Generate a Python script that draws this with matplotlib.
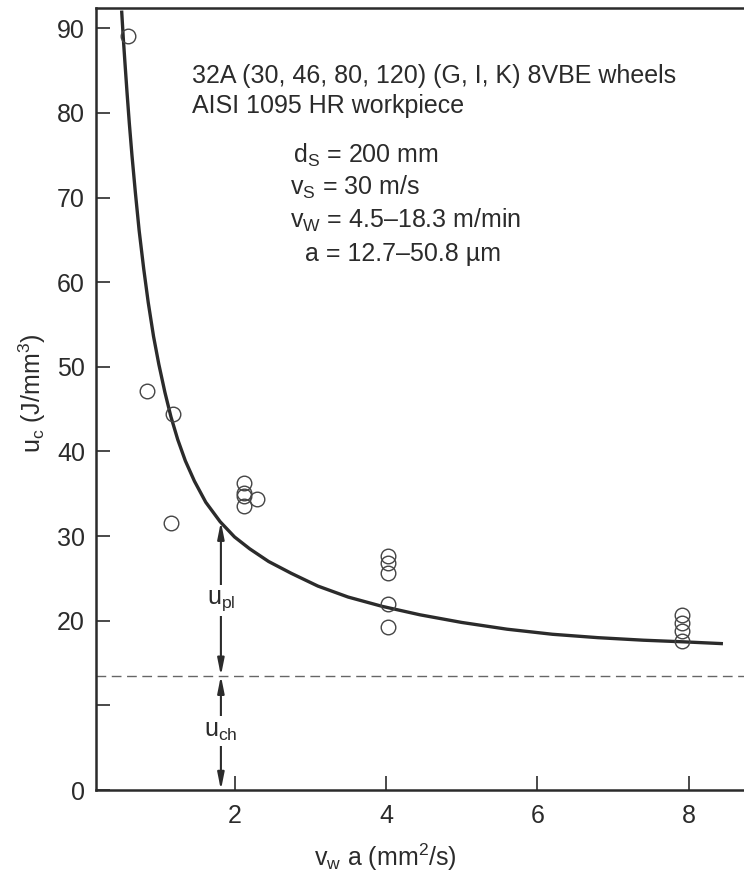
import matplotlib
matplotlib.use("Agg")
import matplotlib.pyplot as plt

plt.rcParams['font.family'] = ['Liberation Sans', 'DejaVu Sans']
plt.rcParams['mathtext.fontset'] = 'custom'
plt.rcParams['mathtext.rm'] = 'Liberation Sans'
plt.rcParams['mathtext.it'] = 'Liberation Sans'

# measured points, vw*a (mm^2/s) vs uc (J/mm^3)
pts_x = [0.59, 0.85, 1.19, 1.16, 2.12, 2.12, 2.12, 2.12, 2.30,
         4.03, 4.03, 4.03, 4.03, 4.03, 7.91, 7.91, 7.91, 7.91]
pts_y = [89.1, 47.2, 44.4, 31.5, 36.3, 35.1, 34.7, 33.6, 34.4,
         27.7, 26.8, 25.6, 22.0, 19.3, 20.7, 19.7, 18.8, 17.6]

# fitted curve
curve_x = [0.51, 0.53, 0.555, 0.58, 0.61, 0.645, 0.69, 0.74, 0.80, 0.86,
           0.93, 1.00, 1.08, 1.16, 1.25, 1.35, 1.47, 1.62, 1.81, 2.00,
           2.20, 2.45, 2.75, 3.10, 3.50, 3.95, 4.45, 5.00, 5.60, 6.20,
           6.80, 7.40, 7.95, 8.43]
curve_y = [91.9, 88.9, 85.6, 82.4, 78.8, 75.0, 70.6, 66.1, 61.6, 57.6,
           53.6, 50.3, 47.0, 44.1, 41.4, 38.9, 36.5, 34.0, 31.7, 29.9,
           28.5, 27.0, 25.6, 24.1, 22.8, 21.7, 20.7, 19.8, 19.0, 18.4,
           18.0, 17.7, 17.5, 17.3]

u_ch = 13.5
u_pl_top = 31.7
arrow_x = 1.82

yticks = [0, 10, 20, 30, 40, 50, 60, 70, 80, 90]
ylabels = ['0', '', '20', '30', '40', '50', '60', '70', '80', '90']
xticks = [2, 4, 6, 8]

ink = '#2b2b2b'

fig = plt.figure(figsize=(7.44, 8.74), dpi=100)
ax = fig.add_axes([96 / 744, 84 / 874, 648 / 744, 782 / 874])
ax.set_xlim(0.17, 8.73)
ax.set_ylim(0, 92.4)

ax.axhline(u_ch, color='#666666', lw=1.0, ls=(0, (7, 4)), zorder=1)
ax.plot(curve_x, curve_y, color=ink, lw=2.4, zorder=3, solid_joinstyle='round')
ax.plot(pts_x, pts_y, 'o', ms=10.5, mfc='none', mec='#444444', mew=1.0, zorder=4)

# double arrows for u_pl and u_ch
arr = dict(arrowstyle='<|-|>,head_length=1.0,head_width=0.2', color=ink,
           lw=1.5, shrinkA=0, shrinkB=0)
ax.annotate('', xy=(arrow_x, u_pl_top), xytext=(arrow_x, u_ch), arrowprops=arr)
ax.annotate('', xy=(arrow_x, u_ch), xytext=(arrow_x, 0), arrowprops=arr)
box = dict(facecolor='white', edgecolor='none', pad=2)
ax.text(arrow_x, 22.4, r'u$_\mathregular{pl}$', ha='center', va='center',
        fontsize=18, color=ink, bbox=box, zorder=5)
ax.text(arrow_x, 7.0, r'u$_\mathregular{ch}$', ha='center', va='center',
        fontsize=18, color=ink, bbox=box, zorder=5)

# annotation block
fs = 18
def ftext(x, y, s):
    fig.text(x / 744, 1 - y / 874, s, ha='left', va='baseline', fontsize=fs, color=ink)

ftext(192, 83, '32A (30, 46, 80, 120) (G, I, K) 8VBE wheels')
ftext(192, 113, 'AISI 1095 HR workpiece')
ftext(293, 163, r'd$_\mathregular{S}$ = 200 mm')
ftext(290, 195, r'v$_\mathregular{S}$ = 30 m/s')
ftext(290, 228, r'v$_\mathregular{W}$ = 4.5–18.3 m/min')
ftext(305, 261, 'a = 12.7–50.8 µm')

ax.set_yticks(yticks)
ax.set_yticklabels(ylabels)
ax.set_xticks(xticks)
ax.tick_params(direction='in', length=10, width=1.2, colors=ink,
               labelsize=18, pad=8)
ax.tick_params(axis='x', pad=10)

for side in ['left', 'bottom', 'top']:
    ax.spines[side].set_linewidth(1.8)
    ax.spines[side].set_color(ink)
ax.spines['right'].set_visible(False)

ax.set_xlabel(r'v$_\mathregular{w}$ a (mm$^\mathregular{2}$/s)', fontsize=18, color=ink)
ax.xaxis.set_label_coords((385 - 96) / 648, -(857 - 790) / 782)
ax.set_ylabel(r'u$_\mathregular{c}$ (J/mm$^\mathregular{3}$)', fontsize=18, color=ink)
ax.yaxis.set_label_coords(-(96 - 32) / 648, (790 - 393) / 782)
ax.xaxis.label.set_va('center')
ax.yaxis.label.set_va('center')

fig.savefig('out.png', dpi=100)
